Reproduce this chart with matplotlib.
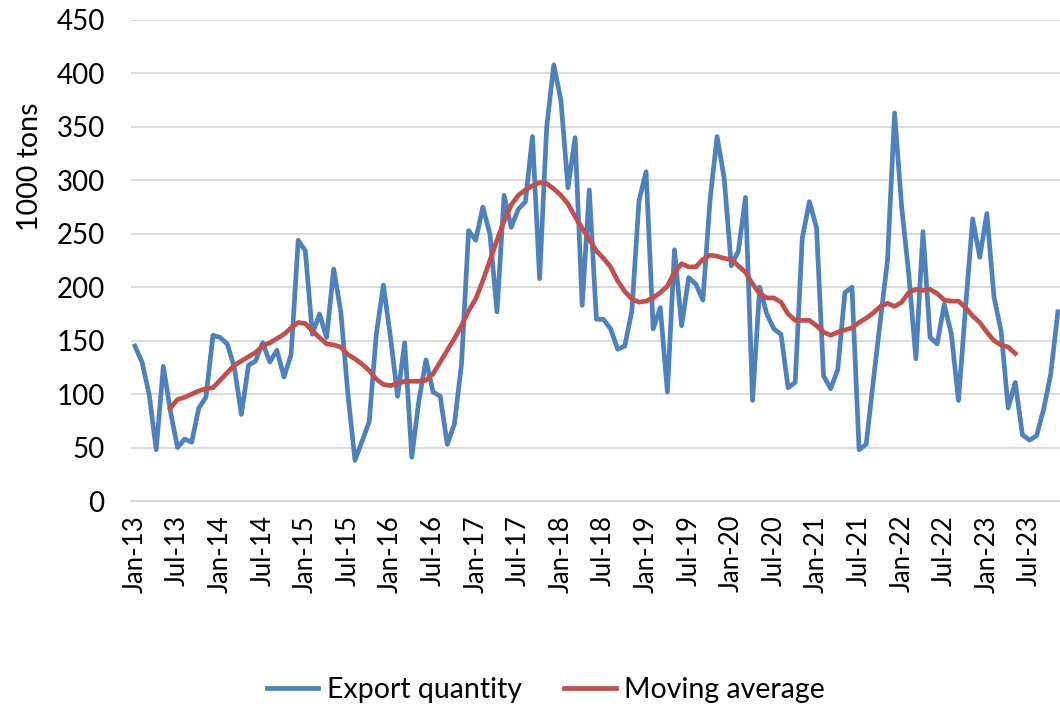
import matplotlib
matplotlib.use("Agg")
import matplotlib.pyplot as plt
import numpy as np

# Monthly data Jan-2013 .. Nov-2023 (131 months)
export_quantity = [
    145, 130, 100, 48, 126, 84, 50, 58, 55, 87, 97, 155,            # 2013
    153, 147, 125, 81, 127, 131, 148, 130, 141, 116, 137, 244,      # 2014
    234, 156, 175, 153, 217, 177, 100, 38, 56, 74, 156, 202,        # 2015
    153, 98, 148, 41, 94, 132, 102, 98, 53, 72, 128, 253,           # 2016
    244, 275, 250, 177, 286, 256, 273, 280, 341, 208, 350, 408,     # 2017
    375, 293, 340, 183, 291, 170, 170, 161, 142, 145, 178, 281,     # 2018
    308, 161, 181, 102, 235, 164, 209, 203, 188, 281, 341, 302,     # 2019
    220, 234, 284, 94, 200, 175, 161, 156, 106, 111, 246, 280,      # 2020
    256, 117, 105, 123, 195, 200, 48, 53, 112, 169, 225, 363,       # 2021
    275, 212, 133, 252, 153, 147, 184, 156, 94, 181, 264, 228,      # 2022
    269, 191, 159, 87, 111, 62, 57, 61, 86, 119, 177,               # 2023
]

# Moving average starts Jun-2013 (index 5), ends May-2023 (index 124)
ma_start = 5
moving_average = [
    87, 95, 97, 100, 103, 105, 106,                                  # Jun-Dec 2013
    113, 120, 127, 131, 135, 139, 145, 148, 152, 156, 162, 167,      # 2014
    166, 159, 153, 147, 146, 144, 137, 133, 128, 122, 114, 109,      # 2015
    108, 110, 112, 112, 112, 113, 119, 130, 141, 152, 164, 178,      # 2016
    189, 206, 225, 244, 262, 277, 286, 291, 295, 298, 297, 292,      # 2017
    286, 278, 266, 255, 245, 234, 227, 219, 206, 196, 189, 186,      # 2018
    187, 190, 195, 201, 214, 222, 219, 219, 226, 230, 229, 227,      # 2019
    226, 220, 214, 203, 194, 190, 190, 186, 175, 169, 169, 169,      # 2020
    164, 158, 155, 158, 160, 162, 167, 171, 176, 182, 185, 182,      # 2021
    186, 195, 198, 197, 198, 194, 188, 187, 187, 181, 173, 167,      # 2022
    158, 150, 146, 144, 138,                                         # Jan-May 2023
]

tick_labels = []
for yr in range(13, 24):
    tick_labels += [f"Jan-{yr}", f"Jul-{yr}"]

series_names = ["Export quantity", "Moving average"]
y_label = "1000 tons"

plt.rcParams['font.family'] = ['Lato', 'DejaVu Sans']

fig = plt.figure(figsize=(10.6, 7.08), dpi=100)
ax = fig.add_axes([131 / 1060, 1 - 501 / 708, (1060 - 131) / 1060, (501 - 20) / 708])

x_exp = np.arange(len(export_quantity))
x_ma = np.arange(ma_start, ma_start + len(moving_average))

blue = "#4F81BD"
red = "#C0504D"
ax.plot(x_exp, export_quantity, color=blue, lw=3.4, solid_joinstyle='round',
        label=series_names[0], zorder=3)
ax.plot(x_ma, moving_average, color=red, lw=3.4, solid_joinstyle='round',
        label=series_names[1], zorder=4)

ax.set_ylim(0, 450)
ax.set_yticks(np.arange(0, 451, 50))
ax.set_xlim(-0.55, 130.3)
ax.set_xticks(np.arange(0, len(tick_labels) * 6, 6))
ax.set_xticklabels(tick_labels, rotation=90)

ax.grid(axis='y', color='#D9D9D9', lw=1.3)
ax.set_axisbelow(True)
for s in ['top', 'right', 'left']:
    ax.spines[s].set_visible(False)
ax.spines['bottom'].set_color('#D9D9D9')
ax.spines['bottom'].set_linewidth(1.3)
ax.tick_params(axis='both', length=0)
ax.tick_params(axis='y', pad=19, labelsize=20)
ax.tick_params(axis='x', pad=10, labelsize=18.5)
ax.set_ylabel(y_label, fontsize=20.5, va='center', ha='center')
ax.yaxis.set_label_coords((30 - 131) / 929, (501 - 167) / 481)

fig.legend(loc='center', bbox_to_anchor=(0.515, 1 - 690 / 708), ncol=2, frameon=False,
           fontsize=20.5, handlelength=1.8, columnspacing=1.5, handletextpad=0.3)

fig.savefig("out.png", dpi=100)
